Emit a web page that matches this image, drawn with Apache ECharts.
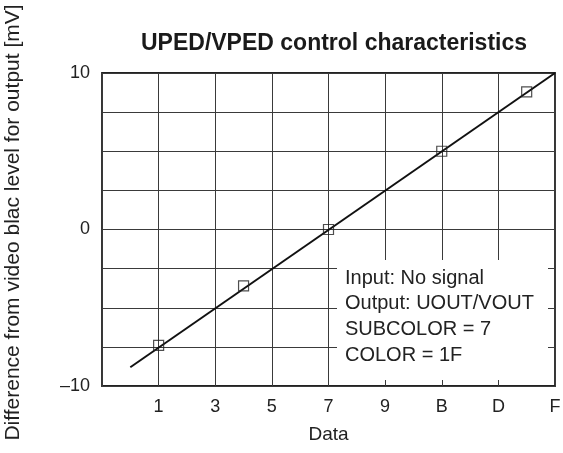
<!DOCTYPE html>
<html>
<head>
<meta charset="utf-8">
<title>UPED/VPED control characteristics</title>
<script src="https://cdn.jsdelivr.net/npm/echarts@6/dist/echarts.min.js"></script>
<style>
    html, body { margin: 0; padding: 0; background: #fff; }
    #main { width: 563px; height: 453px; }
</style>
</head>
<body>
<div id="main"></div>
<script>
    // measured points (x = register data, y = mV)
    const dataX = [1, 4, 7, 11, 14];
    const dataY = [-7.4, -3.6, 0, 5, 8.8];
    // fitted characteristic line end points
    const fitX = [0, 15];
    const fitY = [-8.8, 10];
    const notes = ['Input: No signal', 'Output: UOUT/VOUT', 'SUBCOLOR = 7', 'COLOR = 1F'];

    const chart = echarts.init(document.getElementById('main'));
    const font = '"Liberation Sans", Arial, sans-serif';

    const option = {
        backgroundColor: '#fff',
        animation: false,
        textStyle: { fontFamily: font },
        title: {
            text: 'UPED/VPED control characteristics',
            left: 329, top: 27, textAlign: 'center',
            textStyle: { fontSize: 23, fontWeight: 'bold', color: '#1a1a1a', fontFamily: font }
        },
        grid: {
            left: 102, top: 73, right: 8, bottom: 67,
            outerBoundsMode: 'none', containLabel: false,
            show: true, borderColor: '#222', borderWidth: 1.8
        },
        xAxis: {
            type: 'value', min: -1, max: 15, interval: 2,
            name: 'Data', nameLocation: 'middle', nameGap: 39,
            nameTextStyle: { fontSize: 19, color: '#222', fontFamily: font },
            axisLine: { show: false }, axisTick: { show: false },
            axisLabel: {
                fontSize: 18, color: '#222', margin: 12, fontFamily: font,
                formatter: v => v < 0 ? '' : v.toString(16).toUpperCase()
            },
            splitLine: { lineStyle: { color: '#3a3a3a', width: 1 } }
        },
        yAxis: {
            type: 'value', min: -10, max: 10, interval: 2.5,
            name: 'Difference from video blac level for output [mV]',
            nameLocation: 'middle', nameGap: 78,
            nameTextStyle: { fontSize: 21, color: '#222', fontFamily: font, padding: [0, 0, 0, 14] },
            axisLine: { show: false }, axisTick: { show: false },
            axisLabel: {
                fontSize: 18, color: '#222', margin: 12, fontFamily: font,
                formatter: v => v % 10 === 0 ? (v < 0 ? '\u2013' + (-v) : String(v)) : ''
            },
            splitLine: { lineStyle: { color: '#3a3a3a', width: 1 } }
        },
        graphic: [{
            type: 'rect', left: 337, top: 260, z: 100,
            shape: { width: 211, height: 120 },
            style: { fill: '#fff' }
        }].concat(notes.map((t, i) => ({
            type: 'text', left: 345, top: 268 + i * 25.7, z: 101,
            style: { text: t, fontSize: 20, fill: '#222', fontFamily: font }
        }))),
        series: [{
            type: 'line',
            data: fitX.map((x, i) => [x, fitY[i]]),
            symbol: 'none',
            lineStyle: { color: '#111', width: 2 },
            z: 3
        }, {
            type: 'scatter',
            data: dataX.map((x, i) => [x, dataY[i]]),
            symbol: 'rect', symbolSize: 10,
            itemStyle: { color: 'rgba(255,255,255,0)', borderColor: '#222', borderWidth: 1.2 },
            z: 4
        }]
    };
    chart.setOption(option);
</script>
</body>
</html>
